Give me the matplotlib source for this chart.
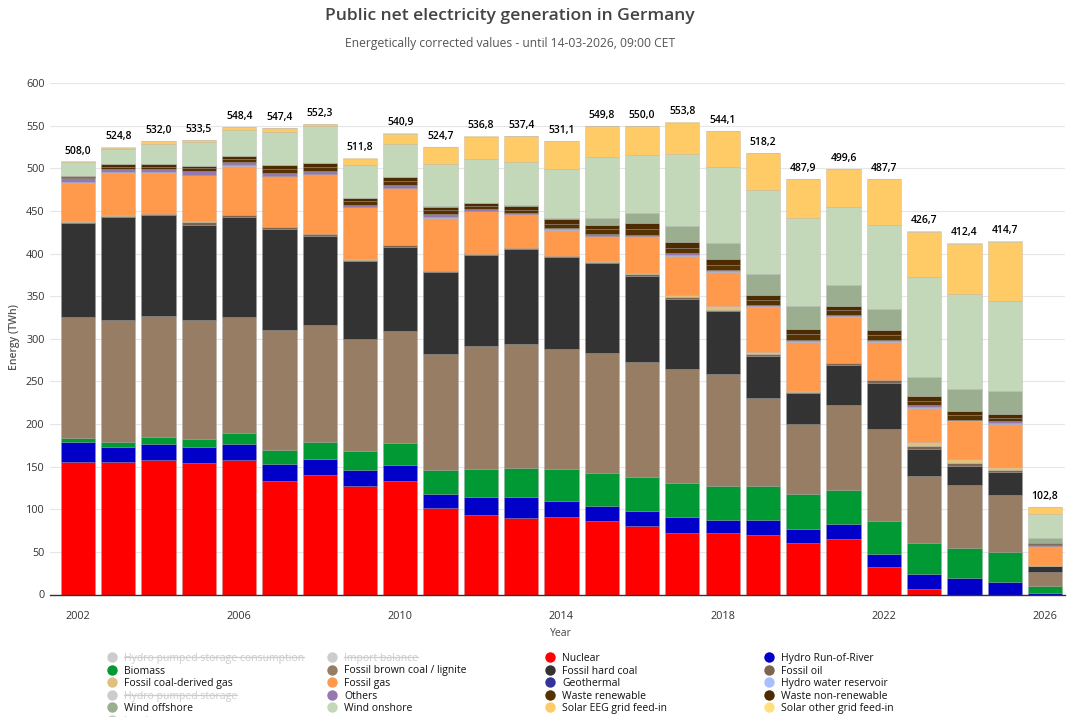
import matplotlib
matplotlib.use('Agg')
import matplotlib.pyplot as plt
from matplotlib.lines import Line2D
import numpy as np

plt.rcParams['font.family'] = ['Open Sans', 'DejaVu Sans']

W = 1074
H = 717

years = list(range(2002, 2027))
totals = [508.0, 524.8, 532.0, 533.5, 548.4, 547.4, 552.3, 511.8, 540.9, 524.7, 536.8, 537.4, 531.1,
          549.8, 550.0, 553.8, 544.1, 518.2, 487.9, 499.6, 487.7, 426.7, 412.4, 414.7, 102.8]

# TWh per source, bottom of the stack first
nuclear = [156, 156, 158, 154, 158, 133, 140, 127, 133, 102, 93, 90, 91, 86, 80, 72, 72, 70, 60, 65, 32, 7, 0, 0, 0]
hydro_ror = [23, 17, 19, 19, 19, 20, 19, 19, 19, 16, 21, 24, 19, 18, 18, 19, 15, 17, 17, 18, 16, 17, 19, 15, 2]
biomass = [4, 6, 8, 9, 13, 16, 20, 22, 26, 28, 33, 34, 37, 39, 40, 40, 40, 40, 41, 40, 38, 36, 36, 35, 8]
brown_coal = [142, 143, 142, 140, 136, 141, 137, 132, 131, 136, 144, 146, 141, 140, 135, 134, 132, 103, 82, 99, 108, 79, 73, 67, 16]
hard_coal = [111, 121, 118, 112, 117, 119, 105, 91, 99, 96, 107, 111, 108, 106, 101, 82, 73, 50, 36, 47, 54, 32, 23, 27, 7]
fossil_oil = [1.5, 1.5, 1.2, 3, 2, 1.5, 1.5, 1.5, 2, 1.5, 1.5, 1.5, 1, 1, 1.5, 1.5, 2, 2, 1.5, 2.5, 3.5, 3, 3.5, 2, 0.5]
coal_gas = [1, 0.5, 0.5, 1, 0.5, 0.5, 0.5, 0.5, 0.5, 0.5, 0.5, 0.5, 0.5, 1, 2, 3, 4, 2, 1, 0.5, 0.5, 5, 5, 4, 1.5]
fossil_gas = [44.5, 50, 48.3, 54, 57.5, 60, 70, 61, 66.5, 62, 50, 39, 30.5, 29, 42.5, 45.5, 40, 53, 57.5, 53, 44, 40, 43.5, 50, 22]
geothermal = [0, 0, 0, 0, 0, 0, 0, 0, 0, 0, 0, 0, 0, 0.1, 0.1, 0.2, 0.2, 0.2, 0.2, 0.2, 0.2, 0.2, 0.2, 0.2, 0.1]
hydro_res = [0.3, 0.3, 0.3, 0.3, 0.3, 0.3, 0.3, 0.3, 0.3, 0.3, 0.3, 0.3, 0.5, 0.8, 0.8, 1, 1, 1.3, 1.3, 1.3, 1.3, 1.3, 1, 1.3, 0.3]
others = [4.7, 3.7, 3.7, 4.7, 3.7, 3.7, 3.7, 2.7, 2.7, 3.7, 1.7, 0.7, 1.5, 2.1, 1.1, 2.8, 1.8, 1.5, 1.5, 1.5, 1.5, 1.5, 0.8, 1.5, 0.6]
waste_ren = [1.5, 3, 3, 3, 3.5, 4.5, 4.5, 4, 5, 4.5, 3.5, 4.5, 5, 5.5, 7, 6, 6, 5.5, 6, 5.5, 5.5, 5.5, 5, 4.5, 1]
waste_nonren = [1.5, 3, 3, 3, 3.5, 4.5, 4.5, 4, 5, 4.5, 3.5, 4.5, 5, 5.5, 7, 6, 6, 5.5, 6, 5.5, 5.5, 5.5, 5, 4.5, 1]
wind_off = [0, 0, 0, 0, 0, 0, 0, 0, 0.2, 0.6, 0.7, 0.9, 1.4, 8, 12, 19, 19, 25, 28, 24, 25, 22, 26, 27, 6]
wind_on = [16, 18, 24, 28, 31, 39, 43, 39, 38, 49, 51, 51, 58, 71, 67, 85, 90, 99, 103, 91, 98, 117, 111, 105, 29]
solar_eeg = [0.5, 1.2, 2.5, 2, 2.9, 3.9, 2.8, 7.3, 12.4, 20.2, 26.3, 29.9, 32.6, 36.3, 34.5, 36.3, 41.6, 42.7, 45.4, 45.1, 54.2, 53.2, 58.9, 69.2, 7.3]
solar_other = [0.5, 0.6, 0.5, 0.5, 0.5, 0.5, 0.5, 0.5, 0.5, 0.5, 0.5, 0.5, 0.5, 0.5, 0.5, 0.5, 0.5, 0.5, 0.5, 0.5, 0.5, 1.5, 1.5, 1.5, 0.5]

stack = [nuclear, hydro_ror, biomass, brown_coal, hard_coal, fossil_oil, coal_gas, fossil_gas, geothermal,
         hydro_res, others, waste_ren, waste_nonren, wind_off, wind_on, solar_eeg, solar_other]
stack_colors = ['#ff0000', '#0000c8', '#009933', '#967d64', '#333333', '#7d6450', '#e0c080', '#ff9a4d', '#333399',
                '#a9c0ff', '#9678b0', '#553300', '#4d2a00', '#9cae90', '#c3d7b9', '#ffcb66', '#ffe080']

# legend rows, left to right, None colour means the series is switched off
legend_names = ['Hydro pumped storage consumption', 'Import balance', 'Nuclear', 'Hydro Run-of-River',
                'Biomass', 'Fossil brown coal / lignite', 'Fossil hard coal', 'Fossil oil',
                'Fossil coal-derived gas', 'Fossil gas', 'Geothermal', 'Hydro water reservoir',
                'Hydro pumped storage', 'Others', 'Waste renewable', 'Waste non-renewable',
                'Wind offshore', 'Wind onshore', 'Solar EEG grid feed-in', 'Solar other grid feed-in',
                'Load']
legend_colors = [None, None, '#ff0000', '#0000c8',
                 '#009933', '#967d64', '#333333', '#7d6450',
                 '#e0c080', '#ff9a4d', '#333399', '#a9c0ff',
                 None, '#9678b0', '#553300', '#4d2a00',
                 '#9cae90', '#c3d7b9', '#ffcb66', '#ffe080',
                 None]
col_x = [112, 332, 550, 769]
row_y = [657, 669.5, 682, 695, 707, 719.5]

fig = plt.figure(figsize=(W / 100, H / 100), dpi=100)
ax = fig.add_axes([50 / W, 1 - 594.5 / H, 1015 / W, 511.5 / H])

# Draw the stacked bars
bottom = np.zeros(len(years))
for vals, col in zip(stack, stack_colors):
    ax.bar(years, vals, bottom=bottom, width=0.85, color=col, edgecolor=(0.6, 0.6, 0.6, 0.35), linewidth=0.5, zorder=3)
    bottom += np.array(vals)

# Totals above the bars
for yr, top, tot in zip(years, bottom, totals):
    ax.annotate(f'{tot:.1f}'.replace('.', ','), (yr, top), xytext=(0, 7.5), textcoords='offset points',
                ha='center', va='center', fontsize=7.5, fontweight='semibold', color='black', zorder=5)

ax.set_xlim(2002 - 28 / 40.3, 2026 + 20 / 40.3)
ax.set_ylim(0, 600)
ax.set_yticks(range(0, 601, 50))
ax.set_xticks(range(2002, 2027, 4))
ax.tick_params(axis='both', length=0, labelsize=7.8, labelcolor='#333333')
ax.tick_params(axis='x', pad=12)
ax.tick_params(axis='y', pad=4)
ax.grid(axis='y', color='#e6e6e6', linewidth=0.8, zorder=0)
for s in ['top', 'left', 'right']:
    ax.spines[s].set_visible(False)
ax.spines['bottom'].set_color('#333333')
ax.spines['bottom'].set_linewidth(1)
ax.spines['bottom'].set_zorder(4)

fig.text(510 / W, 1 - 16.5 / H, 'Public net electricity generation in Germany', ha='center', va='center',
         fontsize=12.6, fontweight='semibold', color='#444444')
fig.text(510 / W, 1 - 43 / H, 'Energetically corrected values - until 14-03-2026, 09:00 CET', ha='center',
         va='center', fontsize=8.7, color='#555555')
fig.text(14 / W, 1 - 337 / H, 'Energy (TWh)', rotation=90, ha='center', va='center', fontsize=7.5,
         fontweight='semibold', color='#555555')
fig.text(561 / W, 1 - 633 / H, 'Year', ha='center', va='center', fontsize=7.5, color='#444444')

# Legend is placed by hand, the hidden series get a grey marker and a struck out label
renderer = fig.canvas.get_renderer()
for i, (name, col) in enumerate(zip(legend_names, legend_colors)):
    x = col_x[i % 4]
    y = row_y[i // 4]
    fig.add_artist(Line2D([x / W], [1 - y / H], marker='o', markersize=7.5, linestyle='none',
                          markerfacecolor=col or '#cccccc', markeredgecolor='none'))
    t = fig.text((x + 12) / W, 1 - (y + 1.5) / H, name, ha='left', va='center', fontsize=7.5,
                 fontweight='medium', color='#111111' if col else '#cccccc')
    if col is None:
        box = t.get_window_extent(renderer)
        fig.add_artist(Line2D([box.x0 / W, box.x1 / W], [1 - y / H, 1 - y / H], color='#cccccc', linewidth=0.9))

fig.savefig('out.png', dpi=100)
